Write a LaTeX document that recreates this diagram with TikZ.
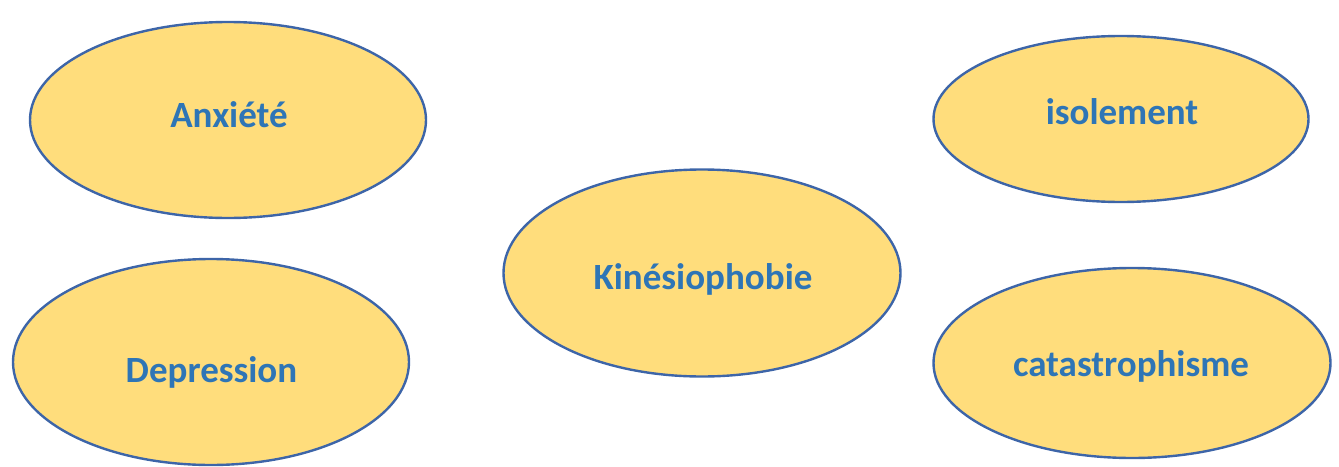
\documentclass[tikz,border=0pt]{standalone}
\usepackage{fontspec}
\setmainfont{Carlito}
\usetikzlibrary{shapes.geometric}
\definecolor{bubblefill}{HTML}{FFDD7C}
\definecolor{bubbleline}{HTML}{3D65A8}
\definecolor{bubbletext}{HTML}{2E75B6}

\begin{document}
\begin{tikzpicture}[
  x=1pt, y=-1pt,
  bubble/.style={ellipse, draw=bubbleline, fill=bubblefill, line width=2.4pt, inner sep=0pt},
  word/.style={anchor=base, inner sep=0pt, text=bubbletext,
               font=\fontsize{37}{42}\selectfont\bfseries}
]
\useasboundingbox (0,0) rectangle (1339,466);
% ellipses
\node[bubble, minimum width=396, minimum height=196] (anx) at (228,120) {};
\node[bubble, minimum width=375, minimum height=166] (iso) at (1121,119) {};
\node[bubble, minimum width=397, minimum height=207] (kin) at (702,273) {};
\node[bubble, minimum width=396, minimum height=206] (dep) at (211,362) {};
\node[bubble, minimum width=397, minimum height=190] (cat) at (1132,363) {};
% labels
\node[word] (anxtxt) at (229,127) {Anxiété};
\node[word] (isotxt) at (1122,124) {isolement};
\node[word] (kintxt) at (703,289) {Kinésiophobie};
\node[word] (deptxt) at (211.5,382) {Depression};
\node[word] (cattxt) at (1131,376) {catastrophisme};
\end{tikzpicture}
\end{document}
